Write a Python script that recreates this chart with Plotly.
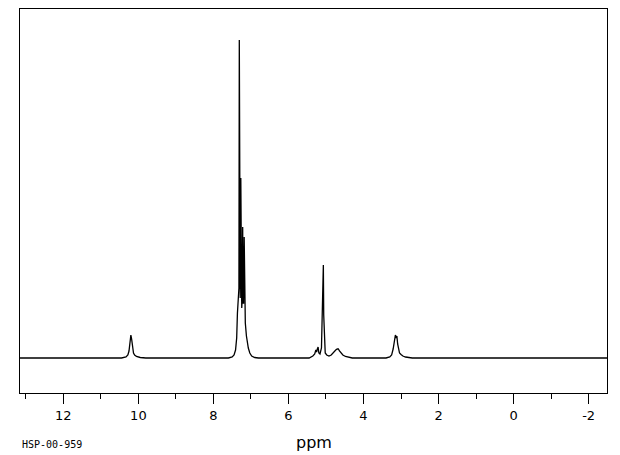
import plotly.graph_objects as go

# Chemical shift (ppm) and intensity
ppm = [13.155, 11.5, 10.45, 10.33, 10.28, 10.25, 10.22, 10.20, 10.18, 10.16, 10.13, 10.10, 10.05, 9.95, 9.8,
       8.5, 7.60, 7.50, 7.45, 7.41, 7.38, 7.36, 7.345, 7.33, 7.32, 7.31, 7.30, 7.285, 7.27, 7.26, 7.245,
       7.23, 7.22, 7.21, 7.195, 7.18, 7.17, 7.15, 7.12, 7.10, 7.07, 7.03, 6.98, 6.90, 6.80,
       6.0, 5.45, 5.35, 5.30, 5.27, 5.25, 5.23, 5.21, 5.19, 5.16, 5.12, 5.10, 5.08, 5.07, 5.06, 5.04,
       5.02, 4.98, 4.92, 4.86, 4.80, 4.74, 4.70, 4.67, 4.64, 4.60, 4.55, 4.48, 4.40, 4.30,
       3.8, 3.40, 3.30, 3.25, 3.21, 3.19, 3.17, 3.15, 3.13, 3.11, 3.09, 3.07, 3.04, 3.00, 2.95, 2.88,
       2.80, 2.70, 1.0, -2.49]
intensity = [0, 0, 0, 1, 3, 7, 18, 23, 19, 10, 5, 3, 1.5, 0.5, 0,
             0, 0, 1, 3, 8, 20, 45, 58, 62, 70, 318, 70, 60, 180, 60, 50,
             60, 131, 55, 55, 121, 45, 35, 22, 15, 10, 5, 2, 0.5, 0,
             0, 0, 2, 4, 8, 6, 9, 11, 5, 4, 10, 48, 58, 93, 43, 18,
             5, 3, 2, 3, 6, 8, 9, 9, 7, 5, 3, 1.5, 0.5, 0,
             0, 0, 1, 3, 9, 16, 21, 23, 20, 22, 14, 8, 5, 3.5, 2, 1,
             0.5, 0, 0, 0]

tick_vals = [12, 10, 8, 6, 4, 2, 0, -2]
tick_text = ["12", "10", "8", "6", "4", "2", "0", "-2"]

fig = go.Figure()
fig.add_trace(go.Scatter(x=ppm, y=intensity, mode="lines",
                         line=dict(color="black", width=1.3), hoverinfo="skip"))

fig.update_layout(
    width=620, height=455,
    margin=dict(l=20, r=13, t=9, b=62),
    paper_bgcolor="white", plot_bgcolor="white",
    showlegend=False,
    font=dict(family="DejaVu Sans", color="black"),
    xaxis=dict(range=[13.155, -2.49], showgrid=False, zeroline=False,
               showline=True, linecolor="black", linewidth=1, mirror=True,
               ticks="outside", ticklen=10, tickcolor="black", tickwidth=1,
               tickvals=tick_vals, ticktext=tick_text,
               tickfont=dict(size=13, family="DejaVu Sans"),
               minor=dict(dtick=1, ticks="outside", ticklen=5, tickcolor="black", tickwidth=1, showgrid=False)),
    yaxis=dict(range=[-35, 349], showgrid=False, zeroline=False,
               showline=True, linecolor="black", linewidth=1, mirror=True,
               ticks="", showticklabels=False),
    annotations=[
        dict(text="ppm", xref="paper", yref="paper", x=0.5, y=-0.128, yanchor="middle",
             showarrow=False, font=dict(size=16, family="DejaVu Sans")),
        dict(text="HSP-00-959", xref="paper", yref="paper", x=-0.0, y=-0.133, xanchor="left",
             yanchor="middle", showarrow=False, font=dict(size=10, family="DejaVu Sans Mono")),
    ],
)

fig.write_html("out.html", config={"displayModeBar": False})

# remove default page margin so the figure sits at the window's top-left corner
with open("out.html", "r", encoding="utf-8") as f:
    html = f.read()
html = html.replace("<head>", "<head><style>html,body{margin:0;padding:0;overflow:hidden;}</style>", 1)
with open("out.html", "w", encoding="utf-8") as f:
    f.write(html)
